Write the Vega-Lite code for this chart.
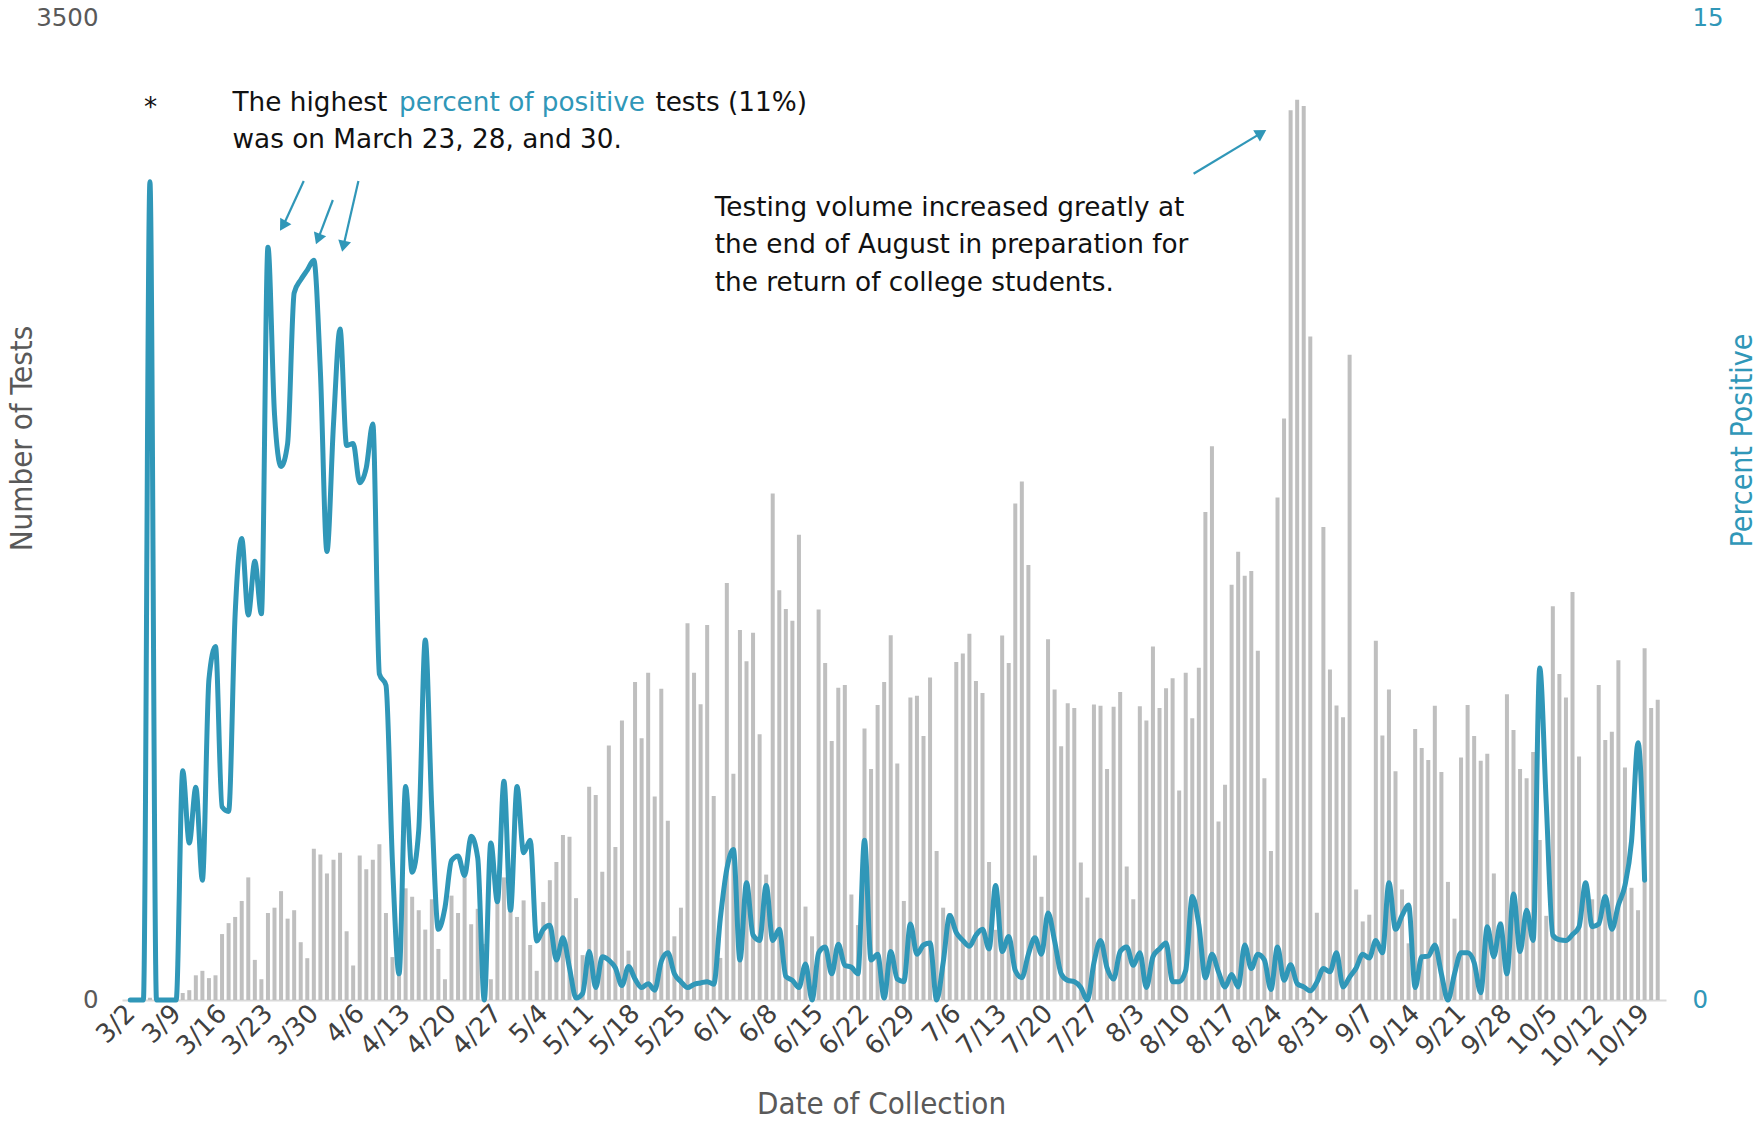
{
"$schema": "https://vega.github.io/schema/vega-lite/v6.json",
"width": 1544, "height": 982,
"autosize": {"type": "none"},
"padding": {"left": 122, "top": 18, "right": 93, "bottom": 123},
"background": "white",
"config": {"view": {"stroke": null}, "font": "DejaVu Sans"},
"datasets": {
"main": [
{"date":"2020-03-02","tests":0,"pct":0},{"date":"2020-03-03","tests":0,"pct":0},{"date":"2020-03-04","tests":0,"pct":0},{"date":"2020-03-05","tests":8,"pct":12.5},{"date":"2020-03-06","tests":0,"pct":0},{"date":"2020-03-07","tests":0,"pct":0},{"date":"2020-03-08","tests":0,"pct":0},{"date":"2020-03-09","tests":4,"pct":0},{"date":"2020-03-10","tests":25,"pct":3.5},{"date":"2020-03-11","tests":35,"pct":2.4},{"date":"2020-03-12","tests":88,"pct":3.25},{"date":"2020-03-13","tests":104,"pct":1.83},{"date":"2020-03-14","tests":78,"pct":4.9},{"date":"2020-03-15","tests":88,"pct":5.4},{"date":"2020-03-16","tests":235,"pct":2.95},{"date":"2020-03-17","tests":274,"pct":2.88},{"date":"2020-03-18","tests":296,"pct":5.9},{"date":"2020-03-19","tests":353,"pct":7.05},{"date":"2020-03-20","tests":437,"pct":5.88},{"date":"2020-03-21","tests":143,"pct":6.7},{"date":"2020-03-22","tests":74,"pct":5.9},{"date":"2020-03-23","tests":310,"pct":11.5},{"date":"2020-03-24","tests":329,"pct":8.95},{"date":"2020-03-25","tests":388,"pct":8.15},{"date":"2020-03-26","tests":290,"pct":8.5},{"date":"2020-03-27","tests":320,"pct":10.8},{"date":"2020-03-28","tests":206,"pct":11.0},{"date":"2020-03-29","tests":149,"pct":11.15},{"date":"2020-03-30","tests":539,"pct":11.3},{"date":"2020-03-31","tests":519,"pct":9.6},
{"date":"2020-04-01","tests":451,"pct":6.85},{"date":"2020-04-02","tests":500,"pct":8.8},{"date":"2020-04-03","tests":525,"pct":10.25},{"date":"2020-04-04","tests":245,"pct":8.47},{"date":"2020-04-05","tests":123,"pct":8.5},{"date":"2020-04-06","tests":515,"pct":7.9},{"date":"2020-04-07","tests":466,"pct":8.13},{"date":"2020-04-08","tests":500,"pct":8.8},{"date":"2020-04-09","tests":555,"pct":4.98},{"date":"2020-04-10","tests":310,"pct":4.81},{"date":"2020-04-11","tests":153,"pct":2.08},{"date":"2020-04-12","tests":120,"pct":0.4},{"date":"2020-04-13","tests":398,"pct":3.26},{"date":"2020-04-14","tests":368,"pct":1.95},{"date":"2020-04-15","tests":320,"pct":2.59},{"date":"2020-04-16","tests":251,"pct":5.5},{"date":"2020-04-17","tests":359,"pct":2.9},{"date":"2020-04-18","tests":182,"pct":1.08},{"date":"2020-04-19","tests":74,"pct":1.41},{"date":"2020-04-20","tests":372,"pct":2.13},{"date":"2020-04-21","tests":310,"pct":2.2},{"date":"2020-04-22","tests":437,"pct":1.9},{"date":"2020-04-23","tests":270,"pct":2.5},{"date":"2020-04-24","tests":325,"pct":2.17},{"date":"2020-04-25","tests":200,"pct":0},{"date":"2020-04-26","tests":74,"pct":2.4},{"date":"2020-04-27","tests":368,"pct":1.5},{"date":"2020-04-28","tests":437,"pct":3.34},{"date":"2020-04-29","tests":339,"pct":1.37},{"date":"2020-04-30","tests":296,"pct":3.26},
{"date":"2020-05-01","tests":355,"pct":2.25},{"date":"2020-05-02","tests":196,"pct":2.44},{"date":"2020-05-03","tests":104,"pct":0.9},{"date":"2020-05-04","tests":349,"pct":1.08},{"date":"2020-05-05","tests":427,"pct":1.14},{"date":"2020-05-06","tests":492,"pct":0.61},{"date":"2020-05-07","tests":588,"pct":0.95},{"date":"2020-05-08","tests":582,"pct":0.49},{"date":"2020-05-09","tests":363,"pct":0.03},{"date":"2020-05-10","tests":160,"pct":0.1},{"date":"2020-05-11","tests":760,"pct":0.74},{"date":"2020-05-12","tests":731,"pct":0.19},{"date":"2020-05-13","tests":457,"pct":0.66},{"date":"2020-05-14","tests":907,"pct":0.61},{"date":"2020-05-15","tests":545,"pct":0.49},{"date":"2020-05-16","tests":996,"pct":0.22},{"date":"2020-05-17","tests":176,"pct":0.51},{"date":"2020-05-18","tests":1133,"pct":0.32},{"date":"2020-05-19","tests":933,"pct":0.19},{"date":"2020-05-20","tests":1166,"pct":0.25},{"date":"2020-05-21","tests":725,"pct":0.15},{"date":"2020-05-22","tests":1109,"pct":0.59},{"date":"2020-05-23","tests":639,"pct":0.72},{"date":"2020-05-24","tests":227,"pct":0.4},{"date":"2020-05-25","tests":329,"pct":0.28},{"date":"2020-05-26","tests":1343,"pct":0.19},{"date":"2020-05-27","tests":1166,"pct":0.24},{"date":"2020-05-28","tests":1054,"pct":0.26},{"date":"2020-05-29","tests":1337,"pct":0.28},{"date":"2020-05-30","tests":727,"pct":0.24},{"date":"2020-05-31","tests":150,"pct":1.24},
{"date":"2020-06-01","tests":1486,"pct":2.0},{"date":"2020-06-02","tests":806,"pct":2.3},{"date":"2020-06-03","tests":1319,"pct":0.61},{"date":"2020-06-04","tests":1207,"pct":1.79},{"date":"2020-06-05","tests":1309,"pct":0.99},{"date":"2020-06-06","tests":947,"pct":0.91},{"date":"2020-06-07","tests":447,"pct":1.75},{"date":"2020-06-08","tests":1805,"pct":0.91},{"date":"2020-06-09","tests":1460,"pct":1.08},{"date":"2020-06-10","tests":1394,"pct":0.36},{"date":"2020-06-11","tests":1352,"pct":0.3},{"date":"2020-06-12","tests":1658,"pct":0.19},{"date":"2020-06-13","tests":333,"pct":0.55},{"date":"2020-06-14","tests":227,"pct":0},{"date":"2020-06-15","tests":1392,"pct":0.72},{"date":"2020-06-16","tests":1201,"pct":0.81},{"date":"2020-06-17","tests":923,"pct":0.4},{"date":"2020-06-18","tests":1113,"pct":0.85},{"date":"2020-06-19","tests":1123,"pct":0.53},{"date":"2020-06-20","tests":376,"pct":0.5},{"date":"2020-06-21","tests":267,"pct":0.4},{"date":"2020-06-22","tests":968,"pct":2.44},{"date":"2020-06-23","tests":823,"pct":0.61},{"date":"2020-06-24","tests":1051,"pct":0.7},{"date":"2020-06-25","tests":1133,"pct":0.03},{"date":"2020-06-26","tests":1300,"pct":0.74},{"date":"2020-06-27","tests":843,"pct":0.32},{"date":"2020-06-28","tests":353,"pct":0.28},{"date":"2020-06-29","tests":1078,"pct":1.16},{"date":"2020-06-30","tests":1084,"pct":0.7},
{"date":"2020-07-01","tests":941,"pct":0.84},{"date":"2020-07-02","tests":1149,"pct":0.87},{"date":"2020-07-03","tests":531,"pct":0},{"date":"2020-07-04","tests":329,"pct":0.57},{"date":"2020-07-05","tests":310,"pct":1.29},{"date":"2020-07-06","tests":1205,"pct":1.03},{"date":"2020-07-07","tests":1235,"pct":0.91},{"date":"2020-07-08","tests":1305,"pct":0.82},{"date":"2020-07-09","tests":1137,"pct":0.99},{"date":"2020-07-10","tests":1094,"pct":1.08},{"date":"2020-07-11","tests":492,"pct":0.78},{"date":"2020-07-12","tests":250,"pct":1.75},{"date":"2020-07-13","tests":1299,"pct":0.74},{"date":"2020-07-14","tests":1201,"pct":0.97},{"date":"2020-07-15","tests":1770,"pct":0.45},{"date":"2020-07-16","tests":1848,"pct":0.34},{"date":"2020-07-17","tests":1550,"pct":0.7},{"date":"2020-07-18","tests":515,"pct":0.95},{"date":"2020-07-19","tests":368,"pct":0.7},{"date":"2020-07-20","tests":1286,"pct":1.33},{"date":"2020-07-21","tests":1107,"pct":0.9},{"date":"2020-07-22","tests":904,"pct":0.4},{"date":"2020-07-23","tests":1058,"pct":0.3},{"date":"2020-07-24","tests":1041,"pct":0.28},{"date":"2020-07-25","tests":490,"pct":0.19},{"date":"2020-07-26","tests":365,"pct":0},{"date":"2020-07-27","tests":1053,"pct":0.57},{"date":"2020-07-28","tests":1049,"pct":0.91},{"date":"2020-07-29","tests":823,"pct":0.49},{"date":"2020-07-30","tests":1045,"pct":0.32},{"date":"2020-07-31","tests":1098,"pct":0.74},
{"date":"2020-08-01","tests":476,"pct":0.81},{"date":"2020-08-02","tests":359,"pct":0.53},{"date":"2020-08-03","tests":1047,"pct":0.72},{"date":"2020-08-04","tests":996,"pct":0.19},{"date":"2020-08-05","tests":1260,"pct":0.66},{"date":"2020-08-06","tests":1041,"pct":0.78},{"date":"2020-08-07","tests":1111,"pct":0.87},{"date":"2020-08-08","tests":1147,"pct":0.28},{"date":"2020-08-09","tests":747,"pct":0.28},{"date":"2020-08-10","tests":1166,"pct":0.45},{"date":"2020-08-11","tests":1004,"pct":1.58},{"date":"2020-08-12","tests":1184,"pct":1.15},{"date":"2020-08-13","tests":1739,"pct":0.34},{"date":"2020-08-14","tests":1974,"pct":0.7},{"date":"2020-08-15","tests":636,"pct":0.43},{"date":"2020-08-16","tests":767,"pct":0.2},{"date":"2020-08-17","tests":1480,"pct":0.39},{"date":"2020-08-18","tests":1598,"pct":0.2},{"date":"2020-08-19","tests":1512,"pct":0.84},{"date":"2020-08-20","tests":1529,"pct":0.48},{"date":"2020-08-21","tests":1245,"pct":0.7},{"date":"2020-08-22","tests":790,"pct":0.61},{"date":"2020-08-23","tests":531,"pct":0.16},{"date":"2020-08-24","tests":1791,"pct":0.81},{"date":"2020-08-25","tests":2073,"pct":0.3},{"date":"2020-08-26","tests":3171,"pct":0.54},{"date":"2020-08-27","tests":3209,"pct":0.25},{"date":"2020-08-28","tests":3186,"pct":0.2},{"date":"2020-08-29","tests":2365,"pct":0.14},{"date":"2020-08-30","tests":311,"pct":0.27},{"date":"2020-08-31","tests":1686,"pct":0.48},
{"date":"2020-09-01","tests":1178,"pct":0.43},{"date":"2020-09-02","tests":1050,"pct":0.72},{"date":"2020-09-03","tests":1008,"pct":0.2},{"date":"2020-09-04","tests":2300,"pct":0.35},{"date":"2020-09-05","tests":394,"pct":0.49},{"date":"2020-09-06","tests":280,"pct":0.7},{"date":"2020-09-07","tests":304,"pct":0.64},{"date":"2020-09-08","tests":1280,"pct":0.91},{"date":"2020-09-09","tests":943,"pct":0.72},{"date":"2020-09-10","tests":1107,"pct":1.79},{"date":"2020-09-11","tests":815,"pct":1.08},{"date":"2020-09-12","tests":394,"pct":1.29},{"date":"2020-09-13","tests":202,"pct":1.45},{"date":"2020-09-14","tests":966,"pct":0.19},{"date":"2020-09-15","tests":898,"pct":0.66},{"date":"2020-09-16","tests":855,"pct":0.67},{"date":"2020-09-17","tests":1049,"pct":0.84},{"date":"2020-09-18","tests":813,"pct":0.4},{"date":"2020-09-19","tests":421,"pct":0},{"date":"2020-09-20","tests":290,"pct":0.4},{"date":"2020-09-21","tests":864,"pct":0.72},{"date":"2020-09-22","tests":1051,"pct":0.72},{"date":"2020-09-23","tests":941,"pct":0.57},{"date":"2020-09-24","tests":853,"pct":0.11},{"date":"2020-09-25","tests":878,"pct":1.12},{"date":"2020-09-26","tests":451,"pct":0.66},{"date":"2020-09-27","tests":280,"pct":1.16},{"date":"2020-09-28","tests":1090,"pct":0.4},{"date":"2020-09-29","tests":962,"pct":1.62},{"date":"2020-09-30","tests":823,"pct":0.74},
{"date":"2020-10-01","tests":790,"pct":1.37},{"date":"2020-10-02","tests":884,"pct":0.91},{"date":"2020-10-03","tests":570,"pct":5.07},{"date":"2020-10-04","tests":300,"pct":3.0},{"date":"2020-10-05","tests":1403,"pct":0.99},{"date":"2020-10-06","tests":1162,"pct":0.92},{"date":"2020-10-07","tests":1078,"pct":0.91},{"date":"2020-10-08","tests":1454,"pct":1.0},{"date":"2020-10-09","tests":868,"pct":1.12},{"date":"2020-10-10","tests":380,"pct":1.79},{"date":"2020-10-11","tests":359,"pct":1.12},{"date":"2020-10-12","tests":1123,"pct":1.16},{"date":"2020-10-13","tests":927,"pct":1.58},{"date":"2020-10-14","tests":956,"pct":1.08},{"date":"2020-10-15","tests":1211,"pct":1.45},{"date":"2020-10-16","tests":829,"pct":1.75},{"date":"2020-10-17","tests":400,"pct":2.42},{"date":"2020-10-18","tests":320,"pct":3.93},{"date":"2020-10-19","tests":1254,"pct":1.83},{"date":"2020-10-20","tests":1041,"pct":null},{"date":"2020-10-21","tests":1070,"pct":null}
],
"notesBlack": [
{"date":1583288640000,"pct":13.5,"text":"*"},
{"date":1584455040000,"pct":13.577,"text":"The highest"},
{"date":1590027840000,"pct":13.577,"text":"tests (11%)"},
{"date":1584455040000,"pct":13.011,"text":"was on March 23, 28, and 30."},
{"date":1590810624000,"pct":11.983,"text":"Testing volume increased greatly at"},
{"date":1590810624000,"pct":11.417,"text":"the end of August in preparation for"},
{"date":1590810624000,"pct":10.834,"text":"the return of college students."}
],
"notesTeal": [
{"date":1586649600000,"pct":13.577,"text":"percent of positive"}
],
"arrows": [
{"date":1585393344000,"pct":12.51,"date2":1585131552000,"pct2":11.85},
{"date":1585776960000,"pct":12.22,"date2":1585590336000,"pct2":11.65},
{"date":1586113920000,"pct":12.51,"date2":1585921248000,"pct2":11.54},
{"date":1597121280000,"pct":12.62,"date2":1597993920000,"pct2":13.23}
]
},
"encoding": {
"x": {"field": "date", "type": "temporal",
 "scale": {"type": "utc", "domain": [1583064000000, 1603281600000]},
 "axis": {
  "values": [1583107200000,1583712000000,1584316800000,1584921600000,1585526400000,1586131200000,1586736000000,1587340800000,1587945600000,1588550400000,1589155200000,1589760000000,1590364800000,1590969600000,1591574400000,1592179200000,1592784000000,1593388800000,1593993600000,1594598400000,1595203200000,1595808000000,1596412800000,1597017600000,1597622400000,1598227200000,1598832000000,1599436800000,1600041600000,1600646400000,1601251200000,1601856000000,1602460800000,1603065600000],
  "labelExpr": "utcFormat(datum.value, '%-m/%-d')",
  "labelAngle": -45, "labelAlign": "right", "labelBaseline": "middle",
  "labelFont": "DejaVu Sans", "labelFontSize": 26, "labelColor": "#404040",
  "labelPadding": 9, "labelOverlap": false, "labelFlush": false, "labelBound": false,
  "ticks": false, "tickSize": 0, "grid": false,
  "domain": true, "domainColor": "#d9d9d9", "domainWidth": 2,
  "title": "Date of Collection", "titleFont": "Liberation Sans Narrow, DejaVu Sans Condensed, Roboto Condensed, Liberation Sans, sans-serif", "titleFontSize": 31,
  "titleFontWeight": "normal", "titleColor": "#595959",
  "titleX": 759, "titleY": 104, "titleAlign": "center", "titleBaseline": "middle"
 }}
},
"layer": [
{"data": {"name": "main"},
 "mark": {"type": "bar", "color": "#bfbfbf", "size": 4},
 "encoding": {"y": {"field": "tests", "type": "quantitative",
  "scale": {"domain": [0, 3500]},
  "axis": {"values": [0, 3500], "format": "d", "labelFont": "DejaVu Sans", "labelFontSize": 24.5, "labelColor": "#595959",
   "ticks": false, "tickSize": 0, "domain": false, "grid": false, "labelPadding": 24,
   "title": "Number of Tests", "titleFont": "Liberation Sans Narrow, DejaVu Sans Condensed, Roboto Condensed, Liberation Sans, sans-serif", "titleFontSize": 31,
   "titleFontWeight": "normal", "titleColor": "#595959",
   "titleX": -100, "titleY": 420, "titleAngle": -90, "titleAlign": "center", "titleBaseline": "middle"}}}},
{"data": {"name": "main"},
 "mark": {"type": "line", "color": "#3097b8", "strokeWidth": 5, "interpolate": "monotone", "strokeCap": "round", "strokeJoin": "round"},
 "encoding": {"y": {"field": "pct", "type": "quantitative",
  "scale": {"domain": [0, 15]},
  "axis": {"orient": "right", "values": [0, 15], "labelFont": "DejaVu Sans", "labelFontSize": 24.5, "labelColor": "#3097b8",
   "ticks": false, "tickSize": 0, "domain": false, "grid": false, "labelPadding": 26,
   "title": "Percent Positive", "titleFont": "Liberation Sans Narrow, DejaVu Sans Condensed, Roboto Condensed, Liberation Sans, sans-serif", "titleFontSize": 30,
   "titleFontWeight": "normal", "titleColor": "#3097b8",
   "titleX": 76, "titleY": 422, "titleAngle": -90, "titleAlign": "center", "titleBaseline": "middle"}}}},
{"data": {"name": "arrows"},
 "mark": {"type": "rule", "color": "#3097b8", "strokeWidth": 2.2},
 "encoding": {"x2": {"field": "date2"},
  "y": {"field": "pct", "type": "quantitative", "scale": {"domain": [0, 15]}, "axis": null},
  "y2": {"field": "pct2"}}},
{"data": {"values": [{"date":1585131552000,"pct":11.85}]},
 "mark": {"type": "point", "shape": "triangle", "filled": true, "color": "#3097b8", "opacity": 1, "size": 170, "angle": 211},
 "encoding": {"y": {"field": "pct", "type": "quantitative", "scale": {"domain": [0, 15]}, "axis": null}}},
{"data": {"values": [{"date":1585590336000,"pct":11.65}]},
 "mark": {"type": "point", "shape": "triangle", "filled": true, "color": "#3097b8", "opacity": 1, "size": 170, "angle": 201},
 "encoding": {"y": {"field": "pct", "type": "quantitative", "scale": {"domain": [0, 15]}, "axis": null}}},
{"data": {"values": [{"date":1585921248000,"pct":11.54}]},
 "mark": {"type": "point", "shape": "triangle", "filled": true, "color": "#3097b8", "opacity": 1, "size": 170, "angle": 193},
 "encoding": {"y": {"field": "pct", "type": "quantitative", "scale": {"domain": [0, 15]}, "axis": null}}},
{"data": {"values": [{"date":1597993920000,"pct":13.23}]},
 "mark": {"type": "point", "shape": "triangle", "filled": true, "color": "#3097b8", "opacity": 1, "size": 170, "angle": 59},
 "encoding": {"y": {"field": "pct", "type": "quantitative", "scale": {"domain": [0, 15]}, "axis": null}}},
{"data": {"name": "notesBlack"},
 "mark": {"type": "text", "align": "left", "baseline": "alphabetic", "font": "DejaVu Sans", "fontSize": 26.3, "color": "#111111"},
 "encoding": {"y": {"field": "pct", "type": "quantitative", "scale": {"domain": [0, 15]}, "axis": null},
  "text": {"field": "text"}}},
{"data": {"name": "notesTeal"},
 "mark": {"type": "text", "align": "left", "baseline": "alphabetic", "font": "DejaVu Sans", "fontSize": 26.3, "color": "#3097b8"},
 "encoding": {"y": {"field": "pct", "type": "quantitative", "scale": {"domain": [0, 15]}, "axis": null},
  "text": {"field": "text"}}}
],
"resolve": {"scale": {"y": "independent"}}
}
